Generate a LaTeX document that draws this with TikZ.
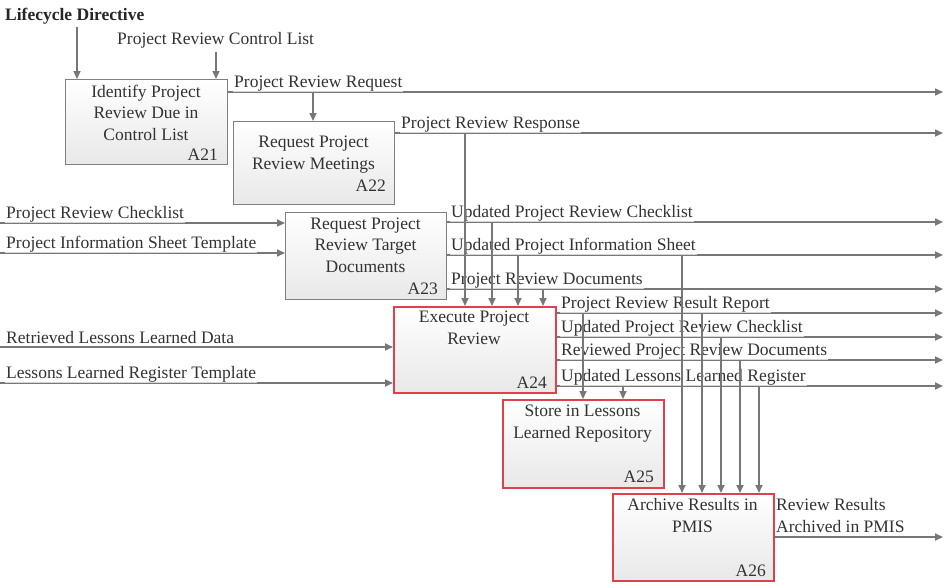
\documentclass[tikz,border=0pt]{standalone}
\usepackage{fontspec}
\setmainfont{Liberation Serif}
\usetikzlibrary{arrows.meta}
\definecolor{ln}{HTML}{777777}
\definecolor{bx}{HTML}{808080}
\definecolor{rb}{HTML}{E0404C}
\definecolor{tx}{HTML}{333333}
\begin{document}
\begin{tikzpicture}[x=1pt,y=-1pt,
  flow/.style={draw=ln, line width=1.6pt, -{Triangle[length=8pt,width=7pt]}},
  lbl/.style={anchor=base west, font=\fontsize{17.5}{21.5}\selectfont, text=tx,
    fill=white, fill opacity=0.7, text opacity=1, inner sep=1pt},
  btxt/.style={anchor=base, align=center, font=\fontsize{17.5}{21.5}\selectfont, text=tx, inner sep=0pt},
  bid/.style={anchor=base east, font=\fontsize{17.5}{21.5}\selectfont, text=tx, inner sep=0pt},
  act/.style={draw=bx, line width=1.4pt, top color=white, bottom color=black!9,
    anchor=north west, inner sep=0pt},
  actr/.style={act, draw=rb, line width=1.7pt},
]
\useasboundingbox (0,0) rectangle (948,587);

% ---- boxes (placed first for anchors; redrawn on top later)
\path node[act, minimum width=162pt, minimum height=85pt] (a21) at (65,79) {};
\path node[act, minimum width=161pt, minimum height=83pt] (a22) at (233,121) {};
\path node[act, minimum width=161pt, minimum height=87pt] (a23) at (285,212) {};
\path node[actr, minimum width=162pt, minimum height=86pt] (a24) at (393,306) {};
\path node[actr, minimum width=161pt, minimum height=88pt] (a25) at (502,399) {};
\path node[actr, minimum width=161pt, minimum height=87pt] (a26) at (612,493) {};

% ---- end coordinates
\coordinate (r1) at (943,92);
\coordinate (r2) at (943,133);
\coordinate (r3) at (943,222);
\coordinate (r4) at (943,255);
\coordinate (r5) at (943,289);
\coordinate (r6) at (943,313);
\coordinate (r7) at (943,337);
\coordinate (r8) at (943,360);
\coordinate (r9) at (943,386);
\coordinate (r10) at (943,537);
\coordinate (l1) at (0,223);
\coordinate (l2) at (0,253);
\coordinate (l3) at (0,347);
\coordinate (l4) at (0,383);

% ---- horizontal flows
\draw[flow] (a21.east |- r1) -- (r1);
\draw[flow] (a22.east |- r2) -- (r2);
\draw[flow] (l1) -- (l1 -| a23.west);
\draw[flow] (l2) -- (l2 -| a23.west);
\draw[flow] (a23.east |- r3) -- (r3);
\draw[flow] (a23.east |- r4) -- (r4);
\draw[flow] (a23.east |- r5) -- (r5);
\draw[flow] (l3) -- (l3 -| a24.west);
\draw[flow] (l4) -- (l4 -| a24.west);
\draw[flow] (a24.east |- r6) -- (r6);
\draw[flow] (a24.east |- r7) -- (r7);
\draw[flow] (a24.east |- r8) -- (r8);
\draw[flow] (a24.east |- r9) -- (r9);
\draw[flow] (a26.east |- r10) -- (r10);

% ---- labels
\node[lbl, font=\fontsize{17.5}{21.5}\selectfont\bfseries, text=black!85] (t0) at (4,20) {Lifecycle Directive};
\node[lbl] (t1) at (116,44) {Project Review Control List};
\node[lbl] (t2) at (233,87) {Project Review Request};
\node[lbl] (t3) at (400,128) {Project Review Response};
\node[lbl] (t4) at (5,218) {Project Review Checklist};
\node[lbl] (t5) at (5,248) {Project Information Sheet Template};
\node[lbl] (t6) at (450,217) {Updated Project Review Checklist};
\node[lbl] (t7) at (450,250) {Updated Project Information Sheet};
\node[lbl] (t8) at (450,284) {Project Review Documents};
\node[lbl] (t9) at (5,343) {Retrieved Lessons Learned Data};
\node[lbl] (t10) at (5,378) {Lessons Learned Register Template};
\node[lbl] (t11) at (560,308) {Project Review Result Report};
\node[lbl] (t12) at (560,332) {Updated Project Review Checklist};
\node[lbl] (t13) at (560,355) {Reviewed Project Review Documents};
\node[lbl] (t14) at (560,381) {Updated Lessons Learned Register};
\node[lbl, align=left] (t15) at (775,532) {Review Results\\Archived in PMIS};

% ---- vertical flows
\coordinate (c1) at (77,27);
\coordinate (c2) at (216,52);
\coordinate (v1) at (313,92);
\coordinate (v2) at (465,133);
\coordinate (v3) at (492,222);
\coordinate (v4) at (518,255);
\coordinate (v5) at (543,289);
\coordinate (v6) at (583,313);
\coordinate (v7) at (623,386);
\coordinate (v8) at (682,255);
\coordinate (v9) at (702,313);
\coordinate (v10) at (721,337);
\coordinate (v11) at (740,360);
\coordinate (v12) at (759,386);
\draw[flow] (c1) -- (c1 |- a21.north);
\draw[flow] (c2) -- (c2 |- a21.north);
\draw[flow] (v1) -- (v1 |- a22.north);
\draw[flow] (v2) -- (v2 |- a24.north);
\draw[flow] (v3) -- (v3 |- a24.north);
\draw[flow] (v4) -- (v4 |- a24.north);
\draw[flow] (v5) -- (v5 |- a24.north);
\draw[flow] (v6) -- (v6 |- a25.north);
\draw[flow] (v7) -- (v7 |- a25.north);
\draw[flow] (v8) -- (v8 |- a26.north);
\draw[flow] (v9) -- (v9 |- a26.north);
\draw[flow] (v10) -- (v10 |- a26.north);
\draw[flow] (v11) -- (v11 |- a26.north);
\draw[flow] (v12) -- (v12 |- a26.north);

% ---- boxes redrawn on top
\node[act, minimum width=162pt, minimum height=85pt] at (65,79) {};
\node[act, minimum width=161pt, minimum height=83pt] at (233,121) {};
\node[act, minimum width=161pt, minimum height=87pt] at (285,212) {};
\node[actr, minimum width=162pt, minimum height=86pt] at (393,306) {};
\node[actr, minimum width=161pt, minimum height=88pt] at (502,399) {};
\node[actr, minimum width=161pt, minimum height=87pt] at (612,493) {};

% ---- box texts (base = baseline of last line)
\node[btxt] (n21) at (146,140) {Identify Project\\Review Due in\\Control List};
\node[bid] (i21) at (218,160) {A21};
\node[btxt] (n22) at (313.5,169) {Request Project\\Review Meetings};
\node[bid] (i22) at (386,191) {A22};
\node[btxt] (n23) at (365.5,272) {Request Project\\Review Target\\Documents};
\node[bid] (i23) at (438,294) {A23};
\node[btxt] (n24) at (474,344) {Execute Project\\Review};
\node[bid] (i24) at (547,388) {A24};
\node[btxt] (n25) at (582.5,438) {Store in Lessons\\Learned Repository};
\node[bid] (i25) at (654,482) {A25};
\node[btxt] (n26) at (692.5,532) {Archive Results in\\PMIS};
\node[bid] (i26) at (766,576) {A26};
\end{tikzpicture}
\end{document}
